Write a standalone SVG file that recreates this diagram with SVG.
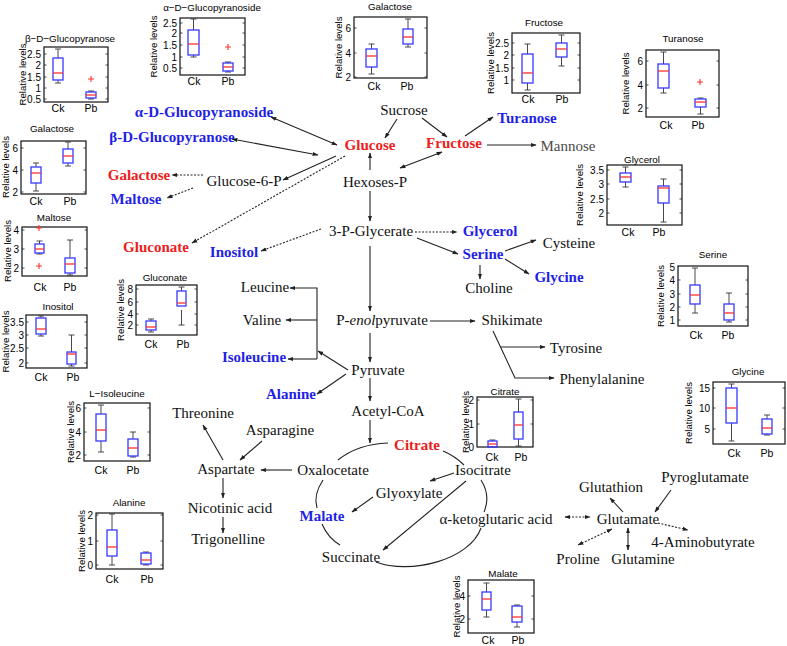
<svg xmlns="http://www.w3.org/2000/svg" width="787" height="646" viewBox="0 0 787 646">
<defs>
<marker id="ah" viewBox="0 0 10 10" refX="9" refY="5" markerWidth="6" markerHeight="6" orient="auto-start-reverse" markerUnits="userSpaceOnUse"><path d="M0,1.5 L10,5 L0,8.5 z" fill="#222"/></marker>
<style>
.n{font-family:"Liberation Serif","Times New Roman",serif;font-size:15px;fill:#111;text-anchor:middle}
.b{font-weight:bold}
.blue{fill:#1f1fe6}
.red{fill:#ee1c1c}
.gray{fill:#4a4a4a}
.pt,.tk,.ax,.yl{font-family:"Liberation Sans",Arial,sans-serif;fill:#000}
.pt{font-size:9.8px;text-anchor:middle}
.tk{font-size:10px;text-anchor:end}
.ax{font-size:10.5px;text-anchor:middle}
.yl{font-size:9.6px;text-anchor:middle}
.fr{fill:none;stroke:#111;stroke-width:1.2}
.bx{fill:none;stroke:#3838ff;stroke-width:1.3}
.md{stroke:#ff3030;stroke-width:1.3}
.wk{stroke:#333;stroke-width:0.9;fill:none}
.tm{stroke:#222;stroke-width:0.8}
.ol{stroke:#ff3030;stroke-width:1.1;fill:none}
.c{fill:none;stroke:#222;stroke-width:1.1}
.d{stroke-dasharray:2 1.5}
.e{marker-end:url(#ah)}
.s{marker-start:url(#ah)}
</style>
</defs>
<rect width="787" height="646" fill="#fff"/>

<g id="connectors">
<path class="c e" d="M397 119 L385 138"/>
<path class="c e" d="M422 118 L447 137"/>
<path class="c e" d="M465 136 L493 117"/>
<path class="c e" d="M487 145 L536 145"/>
<path class="c e s" d="M271 117 L337 145"/>
<path class="c e s" d="M232 139 L318 155"/>
<path class="c e" d="M336 156 L283 180"/>
<path class="c d e" d="M345 156 L192 243"/>
<path class="c d e" d="M203 175 L172 175"/>
<path class="c d e" d="M193 188 L167 198"/>
<path class="c e" d="M370 170 L370 153"/>
<path class="c e s" d="M400 168 L442 152"/>
<path class="c e" d="M370 191 L370 221"/>
<path class="c d e" d="M415 232 L457 232"/>
<path class="c e" d="M417 238 L458 254"/>
<path class="c d e" d="M321 229 L261 251"/>
<path class="c e" d="M505 251 L536 240"/>
<path class="c e" d="M505 259 L529 274"/>
<path class="c e" d="M480 265 L480 279"/>
<path class="c e" d="M370 246 L370 311"/>
<path class="c s" d="M290 288 L317 288 L317 359"/>
<path class="c e" d="M317 320 L286 320"/>
<path class="c e" d="M317 359 L288 359"/>
<path class="c e" d="M348 370 L318 351"/>
<path class="c e" d="M346 374 L317 394"/>
<path class="c e" d="M370 333 L370 362"/>
<path class="c e" d="M370 378 L370 401"/>
<path class="c e" d="M370 420 L370 443"/>
<path class="c e" d="M430 321 L475 321"/>
<path class="c e" d="M493 331 L515 378 L554 378"/>
<path class="c e" d="M501 347 L545 347"/>
<path class="c" d="M338 460 Q358 444 388 443"/>
<path class="c" d="M443 451 Q455 456 464 465"/>
<path class="c" d="M481 480 Q491 496 484 512"/>
<path class="c" d="M481 528 C470 560 410 575 376 562"/>
<path class="c" d="M323 480 Q313 495 317 508"/>
<path class="c" d="M322 524 Q328 538 340 545"/>
<path class="c e" d="M454 473 L430 481"/>
<path class="c e" d="M373 497 L352 512"/>
<path class="c e" d="M466 481 L383 550"/>
<path class="c e" d="M292 470 L261 470"/>
<path class="c e" d="M223 460 L203 425"/>
<path class="c e" d="M262 441 L240 460"/>
<path class="c e" d="M223 478 L223 498"/>
<path class="c e" d="M223 517 L223 533"/>
<path class="c d e s" d="M565 517 L590 517"/>
<path class="c e" d="M623 512 L610 498"/>
<path class="c e" d="M671 490 L655 512"/>
<path class="c d e" d="M658 523 L688 530"/>
<path class="c d e s" d="M612 529 L578 545"/>
<path class="c e s" d="M628 528 L628 550"/>
</g>

<g id="labels">
<text id="n-adglcp" class="n b blue" x="204" y="117">α-D-Glucopyranoside</text>
<text id="n-bdglcp" class="n b blue" x="172" y="142">β-D-Glucopyranose</text>
<text id="n-sucrose" class="n" x="404" y="115">Sucrose</text>
<text id="n-glucose" class="n b red" x="370" y="150">Glucose</text>
<text id="n-fructose" class="n b red" x="454" y="148">Fructose</text>
<text id="n-turanose" class="n b blue" x="527" y="123">Turanose</text>
<text id="n-mannose" class="n gray" x="568" y="151">Mannose</text>
<text id="n-hexosesp" class="n" x="375" y="187">Hexoses-P</text>
<text id="n-g6p" class="n" x="244" y="186">Glucose-6-P</text>
<text id="n-galactose" class="n b red" x="139" y="180">Galactose</text>
<text id="n-maltose" class="n b blue" x="136" y="204">Maltose</text>
<text id="n-gluconate" class="n b red" x="156" y="252">Gluconate</text>
<text id="n-inositol" class="n b blue" x="234" y="257">Inositol</text>
<text id="n-3pg" class="n" x="371" y="236">3-P-Glycerate</text>
<text id="n-glycerol" class="n b blue" x="490" y="236">Glycerol</text>
<text id="n-serine" class="n b blue" x="483" y="259">Serine</text>
<text id="n-cysteine" class="n" x="569" y="248">Cysteine</text>
<text id="n-glycine" class="n b blue" x="559" y="282">Glycine</text>
<text id="n-choline" class="n" x="489" y="293">Choline</text>
<text id="n-leucine" class="n" x="265" y="292">Leucine</text>
<text id="n-valine" class="n" x="262" y="325">Valine</text>
<text id="n-pep" class="n" x="382" y="325">P-<tspan font-style="italic">enol</tspan>pyruvate</text>
<text id="n-shikimate" class="n" x="512" y="325">Shikimate</text>
<text id="n-tyrosine" class="n" x="576" y="353">Tyrosine</text>
<text id="n-phe" class="n" x="602" y="384">Phenylalanine</text>
<text id="n-isoleucine" class="n b blue" x="254" y="362">Isoleucine</text>
<text id="n-pyruvate" class="n" x="378" y="375">Pyruvate</text>
<text id="n-alanine" class="n b blue" x="291" y="399">Alanine</text>
<text id="n-acetylcoa" class="n" x="388" y="416">Acetyl-CoA</text>
<text id="n-citrate" class="n b red" x="417" y="450">Citrate</text>
<text id="n-threonine" class="n" x="203" y="418">Threonine</text>
<text id="n-asparagine" class="n" x="280" y="435">Asparagine</text>
<text id="n-aspartate" class="n" x="226" y="474">Aspartate</text>
<text id="n-oxalocetate" class="n" x="333" y="475">Oxalocetate</text>
<text id="n-isocitrate" class="n" x="483" y="475">Isocitrate</text>
<text id="n-glyoxylate" class="n" x="409" y="498">Glyoxylate</text>
<text id="n-malate" class="n b blue" x="322" y="521">Malate</text>
<text id="n-akg" class="n" x="496" y="524">α-ketoglutaric acid</text>
<text id="n-nicotinic" class="n" x="230" y="513">Nicotinic acid</text>
<text id="n-trigonelline" class="n" x="228" y="544">Trigonelline</text>
<text id="n-succinate" class="n" x="351" y="562">Succinate</text>
<text id="n-glutathion" class="n" x="611" y="492">Glutathion</text>
<text id="n-pyroglutamate" class="n" x="705" y="482">Pyroglutamate</text>
<text id="n-glutamate" class="n" x="628" y="524">Glutamate</text>
<text id="n-gaba" class="n" x="703" y="547">4-Aminobutyrate</text>
<text id="n-proline" class="n" x="578" y="564">Proline</text>
<text id="n-glutamine" class="n" x="643" y="564">Glutamine</text>
</g>

<g id="plot-bdglcp">
<text class="pt" x="70" y="41.5">β−D−Glucopyranose</text>
<text class="yl" transform="translate(25.5,74.5) rotate(-90)">Relative levels</text>
<rect class="fr" x="44" y="47" width="64" height="55"/>
<path class="tm" d="M44 54h2.5M44 65h2.5M44 77h2.5M44 88h2.5M44 99h2.5M108 54h-2.5M108 65h-2.5M108 77h-2.5M108 88h-2.5M108 99h-2.5"/>
<text class="tk" x="41" y="57.5">2.5</text><text class="tk" x="41" y="68.5">2</text><text class="tk" x="41" y="80.5">1.5</text><text class="tk" x="41" y="91.5">1</text><text class="tk" x="41" y="102.5">0.5</text>
<path class="wk" d="M58 49V58M58 80V83M55 49h6M55 83h6M91 91V92M91 98V99M88 91h6M88 99h6"/>
<rect class="bx" x="53" y="58" width="10" height="22"/><path class="md" d="M53 73H63"/>
<rect class="bx" x="86" y="92" width="10" height="6"/><path class="md" d="M86 95H96"/>
<path class="ol" d="M88 79h6M91 76v6"/>
<text class="ax" x="58" y="112">Ck</text><text class="ax" x="91" y="112">Pb</text>
</g>

<g id="plot-adglcp">
<text class="pt" x="212" y="10.5">α−D−Glucopyranoside</text>
<text class="yl" transform="translate(156.5,46.5) rotate(-90)">Relative levels</text>
<rect class="fr" x="180" y="18" width="65" height="57"/>
<path class="tm" d="M180 23h2.5M180 33h2.5M180 45h2.5M180 57h2.5M180 68h2.5M245 23h-2.5M245 33h-2.5M245 45h-2.5M245 57h-2.5M245 68h-2.5"/>
<text class="tk" x="177" y="26.5">2.5</text><text class="tk" x="177" y="36.5">2</text><text class="tk" x="177" y="48.5">1.5</text><text class="tk" x="177" y="60.5">1</text><text class="tk" x="177" y="71.5">0.5</text>
<path class="wk" d="M193.5 19V30M193.5 55V57M190.5 19h6M190.5 57h6M228 62V63M228 71V72M225 62h6M225 72h6"/>
<rect class="bx" x="188" y="30" width="11" height="25"/><path class="md" d="M188 44H199"/>
<rect class="bx" x="223" y="63" width="10" height="8"/><path class="md" d="M223 67H233"/>
<path class="ol" d="M225 47h6M228 44v6"/>
<text class="ax" x="194" y="85">Ck</text><text class="ax" x="228" y="85">Pb</text>
</g>

<g id="plot-galactose-top">
<text class="pt" x="390" y="9.5">Galactose</text>
<text class="yl" transform="translate(341.5,47.5) rotate(-90)">Relative levels</text>
<rect class="fr" x="354" y="17" width="73" height="61"/>
<path class="tm" d="M354 28h2.5M354 53h2.5M354 77h2.5M427 28h-2.5M427 53h-2.5M427 77h-2.5"/>
<text class="tk" x="351" y="31.5">6</text><text class="tk" x="351" y="56.5">4</text><text class="tk" x="351" y="80.5">2</text>
<path class="wk" d="M371.5 44V49M371.5 67V74M368.5 44h6M368.5 74h6M408 19V29M408 44V47M405 19h6M405 47h6"/>
<rect class="bx" x="366" y="49" width="11" height="18"/><path class="md" d="M366 56H377"/>
<rect class="bx" x="403" y="29" width="10" height="15"/><path class="md" d="M403 37H413"/>
<text class="ax" x="374" y="90">Ck</text><text class="ax" x="407" y="90">Pb</text>
</g>

<g id="plot-fructose">
<text class="pt" x="544" y="25.5">Fructose</text>
<text class="yl" transform="translate(493.5,63) rotate(-90)">Relative levels</text>
<rect class="fr" x="512" y="33" width="68" height="60"/>
<path class="tm" d="M512 43h2.5M512 55h2.5M512 68h2.5M512 80h2.5M580 43h-2.5M580 55h-2.5M580 68h-2.5M580 80h-2.5"/>
<text class="tk" x="509" y="46.5">2.5</text><text class="tk" x="509" y="58.5">2</text><text class="tk" x="509" y="71.5">1.5</text><text class="tk" x="509" y="83.5">1</text>
<path class="wk" d="M527.5 44V54M527.5 83V90M524.5 44h6M524.5 90h6M561.5 35V43M561.5 57V66M558.5 35h6M558.5 66h6"/>
<rect class="bx" x="522" y="54" width="11" height="29"/><path class="md" d="M522 73H533"/>
<rect class="bx" x="556" y="43" width="11" height="14"/><path class="md" d="M556 49H567"/>
<text class="ax" x="528" y="103">Ck</text><text class="ax" x="562" y="103">Pb</text>
</g>

<g id="plot-turanose">
<text class="pt" x="683" y="41.5">Turanose</text>
<text class="yl" transform="translate(628.5,83.5) rotate(-90)">Relative levels</text>
<rect class="fr" x="646" y="50" width="73" height="67"/>
<path class="tm" d="M646 61h2.5M646 85h2.5M646 108h2.5M719 61h-2.5M719 85h-2.5M719 108h-2.5"/>
<text class="tk" x="643" y="64.5">6</text><text class="tk" x="643" y="88.5">4</text><text class="tk" x="643" y="111.5">2</text>
<path class="wk" d="M663.5 52V64M663.5 88V93M660.5 52h6M660.5 93h6M700.5 98V99M700.5 107V114M697.5 98h6M697.5 114h6"/>
<rect class="bx" x="658" y="64" width="11" height="24"/><path class="md" d="M658 71H669"/>
<rect class="bx" x="695" y="99" width="11" height="8"/><path class="md" d="M695 102H706"/>
<path class="ol" d="M697 82h6M700 79v6"/>
<text class="ax" x="666" y="129">Ck</text><text class="ax" x="698" y="129">Pb</text>
</g>

<g id="plot-galactose-left">
<text class="pt" x="52" y="131.5">Galactose</text>
<text class="yl" transform="translate(8.5,167) rotate(-90)">Relative levels</text>
<rect class="fr" x="21" y="141" width="65" height="53"/>
<path class="tm" d="M21 148h2.5M21 170h2.5M21 192h2.5M86 148h-2.5M86 170h-2.5M86 192h-2.5"/>
<text class="tk" x="18" y="151.5">6</text><text class="tk" x="18" y="173.5">4</text><text class="tk" x="18" y="195.5">2</text>
<path class="wk" d="M36 163V167M36 183V191M33 163h6M33 191h6M68 142V149M68 163V166M65 142h6M65 166h6"/>
<rect class="bx" x="31" y="167" width="10" height="16"/><path class="md" d="M31 173H41"/>
<rect class="bx" x="63" y="149" width="10" height="14"/><path class="md" d="M63 156H73"/>
<text class="ax" x="36" y="205">Ck</text><text class="ax" x="70" y="205">Pb</text>
</g>

<g id="plot-maltose">
<text class="pt" x="54" y="220.5">Maltose</text>
<text class="yl" transform="translate(11,251) rotate(-90)">Relative levels</text>
<rect class="fr" x="22" y="227" width="65" height="49"/>
<path class="tm" d="M22 230h2.5M22 249h2.5M22 268h2.5M87 230h-2.5M87 249h-2.5M87 268h-2.5"/>
<text class="tk" x="19" y="233.5">4</text><text class="tk" x="19" y="252.5">3</text><text class="tk" x="19" y="271.5">2</text>
<path class="wk" d="M39.5 241V244M39.5 253V254M36.5 241h6M36.5 254h6M70 240V258M70 273V275M67 240h6M67 275h6"/>
<rect class="bx" x="35" y="244" width="9" height="9"/><path class="md" d="M35 249H44"/>
<rect class="bx" x="65" y="258" width="10" height="15"/><path class="md" d="M65 264H75"/>
<path class="ol" d="M36 228h6M39 225v6M36 266h6M39 263v6"/>
<text class="ax" x="40" y="291">Ck</text><text class="ax" x="70" y="291">Pb</text>
</g>

<g id="plot-inositol">
<text class="pt" x="58" y="309.5">Inositol</text>
<text class="yl" transform="translate(8.8,341.5) rotate(-90)">Relative levels</text>
<rect class="fr" x="26" y="315" width="61" height="53"/>
<path class="tm" d="M26 322h2.5M26 335h2.5M26 348h2.5M26 363h2.5M87 322h-2.5M87 335h-2.5M87 348h-2.5M87 363h-2.5"/>
<text class="tk" x="24" y="325.5" font-size="9.3">3.5</text><text class="tk" x="24" y="338.5" font-size="9.3">3</text><text class="tk" x="24" y="351.5" font-size="9.3">2.5</text><text class="tk" x="24" y="366.5" font-size="9.3">2</text>
<path class="wk" d="M41 316V318M41 334V336M38 316h6M38 336h6M71.5 335V352M71.5 364V366M68.5 335h6M68.5 366h6"/>
<rect class="bx" x="36" y="318" width="10" height="16"/><path class="md" d="M36 329H46"/>
<rect class="bx" x="67" y="352" width="9" height="12"/><path class="md" d="M67 354H76"/>
<text class="ax" x="41" y="381">Ck</text><text class="ax" x="73" y="381">Pb</text>
</g>

<g id="plot-gluconate">
<text class="pt" x="165" y="280.5">Gluconate</text>
<text class="yl" transform="translate(123.5,310) rotate(-90)">Relative levels</text>
<rect class="fr" x="136" y="285" width="61" height="50"/>
<path class="tm" d="M136 289h2.5M136 302h2.5M136 314h2.5M136 325h2.5M197 289h-2.5M197 302h-2.5M197 314h-2.5M197 325h-2.5"/>
<text class="tk" x="133" y="292.5">8</text><text class="tk" x="133" y="305.5">6</text><text class="tk" x="133" y="317.5">4</text><text class="tk" x="133" y="328.5">2</text>
<path class="wk" d="M151 319V321M151 330V332M148 319h6M148 332h6M181.5 287V291M181.5 310V325M178.5 287h6M178.5 325h6"/>
<rect class="bx" x="146" y="321" width="10" height="9"/><path class="md" d="M146 327H156"/>
<rect class="bx" x="177" y="291" width="9" height="15"/><path class="md" d="M177 303H186"/>
<text class="ax" x="151" y="348">Ck</text><text class="ax" x="183" y="348">Pb</text>
</g>

<g id="plot-isoleucine">
<text class="pt" x="117" y="396.5">L−Isoleucine</text>
<text class="yl" transform="translate(73.5,432) rotate(-90)">Relative levels</text>
<rect class="fr" x="84" y="403" width="66" height="58"/>
<path class="tm" d="M84 408h2.5M84 432h2.5M84 455h2.5M150 408h-2.5M150 432h-2.5M150 455h-2.5"/>
<text class="tk" x="81" y="411.5">6</text><text class="tk" x="81" y="435.5">4</text><text class="tk" x="81" y="458.5">2</text>
<path class="wk" d="M101 405V414M101 441V452M98 405h6M98 452h6M133 432V439M133 456V457M130 432h6M130 457h6"/>
<rect class="bx" x="96" y="414" width="10" height="27"/><path class="md" d="M96 430H106"/>
<rect class="bx" x="128" y="439" width="10" height="17"/><path class="md" d="M128 448H138"/>
<text class="ax" x="101" y="474">Ck</text><text class="ax" x="133" y="474">Pb</text>
</g>

<g id="plot-alanine">
<text class="pt" x="129" y="505.5">Alanine</text>
<text class="yl" transform="translate(84.5,541) rotate(-90)">Relative levels</text>
<rect class="fr" x="96" y="513" width="67" height="56"/>
<path class="tm" d="M96 515h2.5M96 541h2.5M96 565h2.5M163 515h-2.5M163 541h-2.5M163 565h-2.5"/>
<text class="tk" x="93" y="518.5">2</text><text class="tk" x="93" y="544.5">1</text><text class="tk" x="93" y="568.5">0</text>
<path class="wk" d="M112 514V530M112 556V565M109 514h6M109 565h6M146 552V553M146 564V565M143 552h6M143 565h6"/>
<rect class="bx" x="107" y="530" width="10" height="26"/><path class="md" d="M107 547H117"/>
<rect class="bx" x="141" y="553" width="10" height="11"/><path class="md" d="M141 560H151"/>
<text class="ax" x="112" y="583">Ck</text><text class="ax" x="147" y="583">Pb</text>
</g>

<g id="plot-citrate">
<text class="pt" x="505" y="394.5">Citrate</text>
<text class="yl" transform="translate(468.5,422) rotate(-90)">Relative levels</text>
<rect class="fr" x="477" y="397" width="56" height="50"/>
<path class="tm" d="M477 400h2.5M477 424h2.5M533 400h-2.5M533 424h-2.5"/>
<text class="tk" x="474" y="403.5">2</text><text class="tk" x="474" y="427.5">1</text><text class="tk" x="474" y="450.5">0</text>
<path class="wk" d="M492.5 440V441M489.5 440h6M518.5 399V412M518.5 439V446M515.5 399h6M515.5 446h6"/>
<rect class="bx" x="488" y="441" width="9" height="6"/><path class="md" d="M488 444H497"/>
<rect class="bx" x="514" y="412" width="9" height="27"/><path class="md" d="M514 425H523"/>
<text class="ax" x="492" y="461">Ck</text><text class="ax" x="521" y="461">Pb</text>
</g>

<g id="plot-malate">
<text class="pt" x="503" y="576.5">Malate</text>
<text class="yl" transform="translate(459.5,606.5) rotate(-90)">Relative levels</text>
<rect class="fr" x="468" y="580" width="66" height="53"/>
<path class="tm" d="M468 596h2.5M468 619h2.5M534 596h-2.5M534 619h-2.5"/>
<text class="tk" x="465" y="599.5">4</text><text class="tk" x="465" y="622.5">2</text>
<path class="wk" d="M486.5 583V592M486.5 610V617M483.5 583h6M483.5 617h6M517 605V606M517 622V627M514 605h6M514 627h6"/>
<rect class="bx" x="482" y="592" width="9" height="18"/><path class="md" d="M482 599H491"/>
<rect class="bx" x="512" y="606" width="10" height="16"/><path class="md" d="M512 617H522"/>
<text class="ax" x="488" y="644">Ck</text><text class="ax" x="518" y="644">Pb</text>
</g>

<g id="plot-glycerol">
<text class="pt" x="642" y="162.5">Glycerol</text>
<text class="yl" transform="translate(582.5,195) rotate(-90)">Relative levels</text>
<rect class="fr" x="607" y="165" width="75" height="60"/>
<path class="tm" d="M607 170h2.5M607 184h2.5M607 199h2.5M607 213h2.5M682 170h-2.5M682 184h-2.5M682 199h-2.5M682 213h-2.5"/>
<text class="tk" x="604" y="173.5">3.5</text><text class="tk" x="604" y="187.5">3</text><text class="tk" x="604" y="202.5">2.5</text><text class="tk" x="604" y="216.5">2</text>
<path class="wk" d="M625.5 167V173M625.5 182V187M622.5 167h6M622.5 187h6M663.5 179V186M663.5 203V222M660.5 179h6M660.5 222h6"/>
<rect class="bx" x="620" y="173" width="11" height="9"/><path class="md" d="M620 177H631"/>
<rect class="bx" x="658" y="186" width="11" height="17"/><path class="md" d="M658 188H669"/>
<text class="ax" x="628" y="236">Ck</text><text class="ax" x="659" y="236">Pb</text>
</g>

<g id="plot-serine">
<text class="pt" x="713" y="257.5">Serine</text>
<text class="yl" transform="translate(663.5,296) rotate(-90)">Relative levels</text>
<rect class="fr" x="678" y="266" width="70" height="60"/>
<path class="tm" d="M678 280h2.5M678 294h2.5M678 307h2.5M678 320h2.5M748 280h-2.5M748 294h-2.5M748 307h-2.5M748 320h-2.5"/>
<text class="tk" x="675" y="270.5">5</text><text class="tk" x="675" y="283.5">4</text><text class="tk" x="675" y="297.5">3</text><text class="tk" x="675" y="310.5">2</text><text class="tk" x="675" y="323.5">1</text>
<path class="wk" d="M695 268V285M695 304V313M692 268h6M692 313h6M729 293V304M729 320V322M726 293h6M726 322h6"/>
<rect class="bx" x="690" y="285" width="10" height="19"/><path class="md" d="M690 295H700"/>
<rect class="bx" x="724" y="304" width="10" height="16"/><path class="md" d="M724 313H734"/>
<text class="ax" x="696" y="339">Ck</text><text class="ax" x="728" y="339">Pb</text>
</g>

<g id="plot-glycine">
<text class="pt" x="748" y="374.5">Glycine</text>
<text class="yl" transform="translate(691.5,413) rotate(-90)">Relative levels</text>
<rect class="fr" x="713" y="382" width="72" height="62"/>
<path class="tm" d="M713 388h2.5M713 408h2.5M713 429h2.5M785 388h-2.5M785 408h-2.5M785 429h-2.5"/>
<text class="tk" x="710" y="391.5">15</text><text class="tk" x="710" y="411.5">10</text><text class="tk" x="710" y="432.5">5</text>
<path class="wk" d="M731.5 384V388M731.5 423V441M728.5 384h6M728.5 441h6M767 415V419M767 434V435M764 415h6M764 435h6"/>
<rect class="bx" x="726" y="388" width="11" height="35"/><path class="md" d="M726 408H737"/>
<rect class="bx" x="762" y="419" width="10" height="15"/><path class="md" d="M762 428H772"/>
<text class="ax" x="734" y="457">Ck</text><text class="ax" x="767" y="457">Pb</text>
</g>
</svg>
